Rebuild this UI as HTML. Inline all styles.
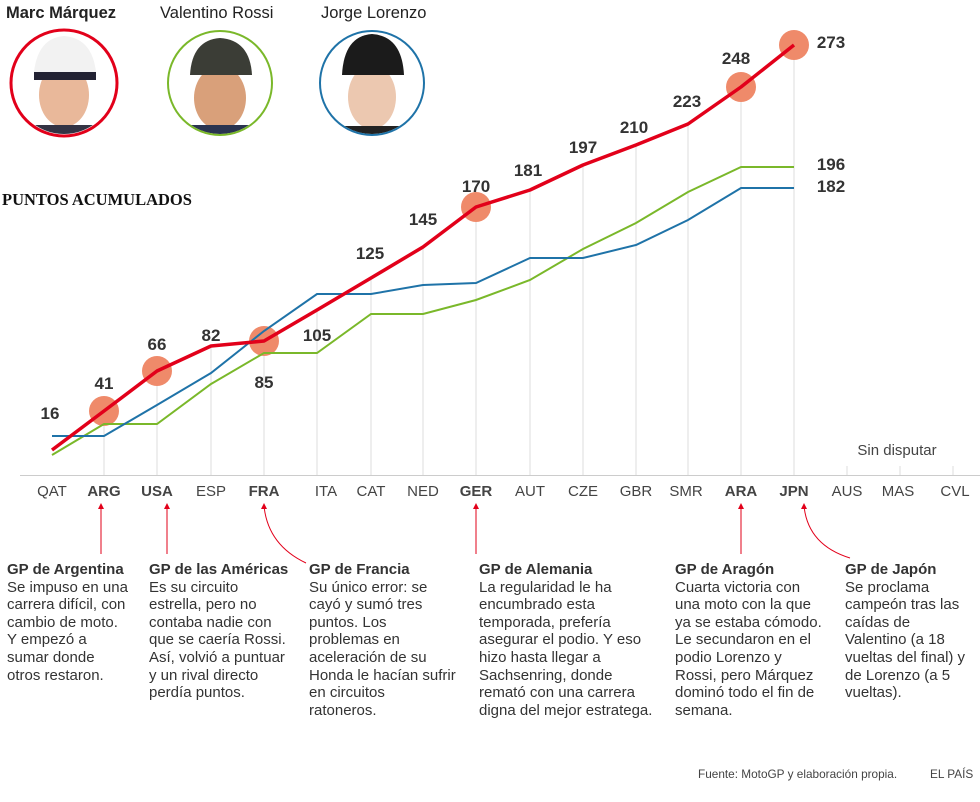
<!DOCTYPE html>
<html><head><meta charset="utf-8"><style>
body{margin:0;background:#fff;font-family:"Liberation Sans",sans-serif;color:#333}
#w{position:relative;width:980px;height:802px;overflow:hidden}
.t{position:absolute;font-size:15px;line-height:17.6px;color:#333;white-space:nowrap}
.t b{display:block;color:#333}
.n{position:absolute;font-size:16.5px;color:#222}
</style></head><body><div id="w">
<svg width="980" height="802" style="position:absolute;left:0;top:0" font-family="Liberation Sans, sans-serif">
<g stroke="#ddd" stroke-width="1">
<line x1="20" y1="475.5" x2="980" y2="475.5" stroke="#ccc"/>
<line x1="104" y1="411" x2="104" y2="475"/><line x1="157" y1="371" x2="157" y2="475"/>
<line x1="211" y1="346" x2="211" y2="475"/><line x1="264" y1="341" x2="264" y2="475"/>
<line x1="317" y1="310" x2="317" y2="475"/><line x1="371" y1="278" x2="371" y2="475"/>
<line x1="423" y1="247" x2="423" y2="475"/><line x1="476" y1="207" x2="476" y2="475"/>
<line x1="530" y1="190" x2="530" y2="475"/><line x1="583" y1="165" x2="583" y2="475"/>
<line x1="636" y1="145" x2="636" y2="475"/><line x1="688" y1="124" x2="688" y2="475"/>
<line x1="741" y1="85" x2="741" y2="475"/><line x1="794" y1="45" x2="794" y2="475"/>
<line x1="847" y1="466" x2="847" y2="475"/><line x1="900" y1="466" x2="900" y2="475"/><line x1="953" y1="466" x2="953" y2="475"/>
</g>
<g fill="#ef8a6a"><circle cx="104" cy="411" r="15"/><circle cx="157" cy="371" r="15"/><circle cx="264" cy="341" r="15"/><circle cx="476" cy="207" r="15"/><circle cx="741" cy="87" r="15"/><circle cx="794" cy="45" r="15"/></g>
<polyline fill="none" stroke="#7ab82a" stroke-width="2" points="52,455 104,424 157,424 211,384 264,353 317,353 371,314 423,314 476,300 530,280 583,249 636,223 688,192 741,167 794,167"/>
<polyline fill="none" stroke="#1f73a8" stroke-width="2" points="52,436 104,436 157,405 211,373 264,331 317,294 371,294 423,285 476,283 530,258 583,258 636,245 688,220 741,188 794,188"/>
<polyline fill="none" stroke="#e2001a" stroke-width="3.5" stroke-linejoin="round" points="52,450 104,411 157,371 211,346 264,341 317,310 371,278 423,247 476,207 530,190 583,165 636,145 688,124 741,87 794,45"/>
<g font-size="17" font-weight="bold" fill="#333" text-anchor="middle">
<text x="50" y="419">16</text><text x="104" y="389">41</text><text x="157" y="350">66</text><text x="211" y="341">82</text><text x="264" y="388">85</text><text x="317" y="341">105</text><text x="370" y="259">125</text><text x="423" y="225">145</text><text x="476" y="192">170</text><text x="528" y="176">181</text><text x="583" y="153">197</text><text x="634" y="133">210</text><text x="687" y="107">223</text><text x="736" y="64">248</text>
<text x="831" y="48">273</text><text x="831" y="170">196</text><text x="831" y="192">182</text></g>
<g font-size="15" fill="#444" text-anchor="middle">
<text x="52" y="496">QAT</text><text x="104" y="496" font-weight="bold">ARG</text><text x="157" y="496" font-weight="bold">USA</text><text x="211" y="496">ESP</text><text x="264" y="496" font-weight="bold">FRA</text><text x="326" y="496">ITA</text><text x="371" y="496">CAT</text><text x="423" y="496">NED</text><text x="476" y="496" font-weight="bold">GER</text><text x="530" y="496">AUT</text><text x="583" y="496">CZE</text><text x="636" y="496">GBR</text><text x="686" y="496">SMR</text><text x="741" y="496" font-weight="bold">ARA</text><text x="794" y="496" font-weight="bold">JPN</text><text x="847" y="496">AUS</text><text x="898" y="496">MAS</text><text x="955" y="496">CVL</text>
<text x="897" y="455">Sin disputar</text></g>
<g stroke="#e2001a" stroke-width="1" fill="none">
<line x1="101" y1="506" x2="101" y2="554"/><line x1="167" y1="506" x2="167" y2="554"/>
<path d="M264,506 Q268,545 306,563"/><line x1="476" y1="506" x2="476" y2="554"/>
<line x1="741" y1="506" x2="741" y2="554"/><path d="M804,506 Q808,545 850,558"/></g>
<g fill="#e2001a"><path d="M98,509 L101,503 L104,509Z"/><path d="M164,509 L167,503 L170,509Z"/><path d="M261,509 L264,503 L267,509Z"/><path d="M473,509 L476,503 L479,509Z"/><path d="M738,509 L741,503 L744,509Z"/><path d="M801,509 L804,503 L807,509Z"/></g>
<defs><clipPath id="c1"><circle cx="64" cy="83" r="51"/></clipPath><clipPath id="c2"><circle cx="220" cy="83" r="51"/></clipPath><clipPath id="c3"><circle cx="372" cy="83" r="51"/></clipPath></defs>
<g clip-path="url(#c1)"><ellipse cx="64" cy="95" rx="25" ry="32" fill="#e9b89a"/><path d="M34,72 Q38,38 64,36 Q92,38 96,72Z" fill="#f2f2f2"/><path d="M34,72 L96,72 L96,80 L34,80Z" fill="#223"/><rect x="30" y="125" width="70" height="15" fill="#334"/></g>
<circle cx="64" cy="83" r="53" fill="none" stroke="#e2001a" stroke-width="3"/>
<g clip-path="url(#c2)"><ellipse cx="220" cy="98" rx="26" ry="32" fill="#d9a07a"/><path d="M190,75 Q192,40 220,38 Q250,40 252,75Z" fill="#3b3d36"/><rect x="185" y="125" width="70" height="15" fill="#2a3450"/></g>
<circle cx="220" cy="83" r="52" fill="none" stroke="#7ab82a" stroke-width="2"/>
<g clip-path="url(#c3)"><ellipse cx="372" cy="97" rx="24" ry="32" fill="#ecc8b0"/><path d="M342,75 Q344,36 372,34 Q402,36 404,75Z" fill="#1b1b1b"/><rect x="340" y="126" width="70" height="15" fill="#222"/></g>
<circle cx="372" cy="83" r="52" fill="none" stroke="#1f73a8" stroke-width="2"/>
</svg>
<div class="n" style="left:6px;top:4px;font-weight:bold">Marc Márquez</div>
<div class="n" style="left:160px;top:4px">Valentino Rossi</div>
<div class="n" style="left:321px;top:4px">Jorge Lorenzo</div>
<div style="position:absolute;left:2px;top:190px;font-family:'Liberation Serif',serif;font-weight:bold;font-size:16.5px;color:#111">PUNTOS ACUMULADOS</div>
<div class="t" style="left:7px;top:561px"><b>GP de Argentina</b>Se impuso en una<br>carrera difícil, con<br>cambio de moto.<br>Y empezó a<br>sumar donde<br>otros restaron.</div>
<div class="t" style="left:149px;top:561px"><b>GP de las Américas</b>Es su circuito<br>estrella, pero no<br>contaba nadie con<br>que se caería Rossi.<br>Así, volvió a puntuar<br>y un rival directo<br>perdía puntos.</div>
<div class="t" style="left:309px;top:561px"><b>GP de Francia</b>Su único error: se<br>cayó y sumó tres<br>puntos. Los<br>problemas en<br>aceleración de su<br>Honda le hacían sufrir<br>en circuitos<br>ratoneros.</div>
<div class="t" style="left:479px;top:561px"><b>GP de Alemania</b>La regularidad le ha<br>encumbrado esta<br>temporada, prefería<br>asegurar el podio. Y eso<br>hizo hasta llegar a<br>Sachsenring, donde<br>remató con una carrera<br>digna del mejor estratega.</div>
<div class="t" style="left:675px;top:561px"><b>GP de Aragón</b>Cuarta victoria con<br>una moto con la que<br>ya se estaba cómodo.<br>Le secundaron en el<br>podio Lorenzo y<br>Rossi, pero Márquez<br>dominó todo el fin de<br>semana.</div>
<div class="t" style="left:845px;top:561px"><b>GP de Japón</b>Se proclama<br>campeón tras las<br>caídas de<br>Valentino (a 18<br>vueltas del final) y<br>de Lorenzo (a 5<br>vueltas).</div>
<div style="position:absolute;left:698px;top:767px;font-size:11.8px;color:#444">Fuente: MotoGP y elaboración propia.</div>
<div style="position:absolute;left:930px;top:767px;font-size:11.8px;color:#444">EL PAÍS</div>
</div></body></html>
